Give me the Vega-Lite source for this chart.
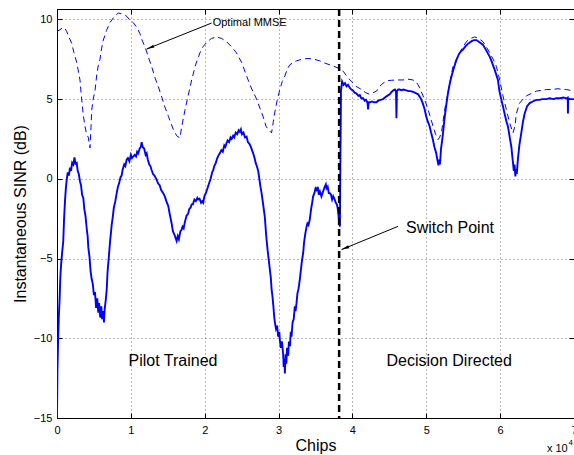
{
  "$schema": "https://vega.github.io/schema/vega-lite/v6.json",
  "width": 517,
  "height": 409,
  "autosize": {"type": "none"},
  "padding": {"left": 57, "top": 9, "right": 0, "bottom": 37},
  "background": "white",
  "config": {
    "font": "Liberation Sans",
    "view": {"stroke": "black", "strokeWidth": 1},
    "axis": {
      "labelFontSize": 11,
      "labelColor": "black",
      "titleFontSize": 16,
      "titleFontWeight": "normal",
      "titleColor": "black",
      "domainColor": "black",
      "tickColor": "black",
      "gridColor": "#000000",
      "gridOpacity": 0.55,
      "gridDash": [1, 3],
      "gridWidth": 1
    }
  },
  "datasets": {
    "mmse": [
      {"x":0,"y":9.25},{"x":400,"y":9.35},{"x":850,"y":9.5},{"x":1100,"y":9.4},{"x":1310,"y":9.25},{"x":1600,"y":8.9},{"x":1990,"y":8.5},{"x":2300,"y":7.9},{"x":2670,"y":7.3},{"x":3110,"y":6.2},{"x":3340,"y":5.0},{"x":3560,"y":4.0},{"x":3790,"y":3.3},{"x":4000,"y":2.8},{"x":4240,"y":2.6},{"x":4465,"y":1.94},{"x":4600,"y":3.2},{"x":4700,"y":4.3},{"x":4900,"y":5.0},{"x":5140,"y":5.5},{"x":5400,"y":6.6},{"x":5590,"y":7.1},{"x":5820,"y":7.5},{"x":6050,"y":8.2},{"x":6270,"y":8.7},{"x":6700,"y":9.3},{"x":7170,"y":9.8},{"x":7800,"y":10.2},{"x":8300,"y":10.4},{"x":8700,"y":10.35},{"x":9200,"y":10.3},{"x":9800,"y":10.0},{"x":10320,"y":9.8},{"x":10800,"y":9.5},{"x":11230,"y":9.1},{"x":11600,"y":8.6},{"x":11900,"y":8.3},{"x":12400,"y":7.6},{"x":12810,"y":7.05},{"x":13300,"y":6.3},{"x":13700,"y":5.8},{"x":14200,"y":5.1},{"x":14610,"y":4.5},{"x":15100,"y":3.9},{"x":15740,"y":3.1},{"x":16200,"y":2.7},{"x":16640,"y":2.56},{"x":16900,"y":3.3},{"x":17320,"y":4.3},{"x":17750,"y":5.2},{"x":18230,"y":6.2},{"x":18800,"y":7.2},{"x":19350,"y":7.9},{"x":19800,"y":8.3},{"x":20250,"y":8.55},{"x":20900,"y":8.8},{"x":21600,"y":8.9},{"x":22300,"y":8.8},{"x":22960,"y":8.6},{"x":23600,"y":8.3},{"x":24300,"y":7.9},{"x":25000,"y":7.3},{"x":25670,"y":6.45},{"x":26300,"y":5.7},{"x":27020,"y":5.0},{"x":27500,"y":4.4},{"x":27910,"y":3.9},{"x":28300,"y":3.3},{"x":28590,"y":3.1},{"x":29050,"y":2.88},{"x":29300,"y":3.6},{"x":29500,"y":4.2},{"x":29800,"y":4.9},{"x":30170,"y":5.6},{"x":30500,"y":6.1},{"x":30850,"y":6.45},{"x":31200,"y":6.9},{"x":31530,"y":7.15},{"x":32000,"y":7.3},{"x":32430,"y":7.4},{"x":33200,"y":7.5},{"x":34000,"y":7.55},{"x":34800,"y":7.5},{"x":35580,"y":7.4},{"x":36300,"y":7.25},{"x":36940,"y":7.15},{"x":37500,"y":7.05},{"x":38060,"y":6.95},{"x":38740,"y":6.75},{"x":39300,"y":6.4},{"x":39870,"y":6.1},{"x":40500,"y":5.8},{"x":41230,"y":5.6},{"x":41800,"y":5.4},{"x":42350,"y":5.3},{"x":42800,"y":5.4},{"x":43260,"y":5.5},{"x":43700,"y":5.8},{"x":44150,"y":6.0},{"x":44700,"y":6.15},{"x":45290,"y":6.18},{"x":46000,"y":6.2},{"x":46850,"y":6.2},{"x":47500,"y":6.25},{"x":48200,"y":6.2},{"x":48600,"y":6.1},{"x":48880,"y":5.9},{"x":49200,"y":5.6},{"x":49560,"y":5.2},{"x":49900,"y":4.8},{"x":50240,"y":4.35},{"x":50600,"y":3.8},{"x":50910,"y":3.3},{"x":51250,"y":2.8},{"x":51590,"y":2.46},{"x":51800,"y":2.6},{"x":52050,"y":2.9},{"x":52300,"y":3.7},{"x":52500,"y":4.35},{"x":52850,"y":5.2},{"x":53170,"y":6.0},{"x":53620,"y":7.05},{"x":54080,"y":7.5},{"x":54530,"y":7.9},{"x":55000,"y":8.3},{"x":55430,"y":8.6},{"x":56000,"y":8.8},{"x":56560,"y":8.9},{"x":57100,"y":8.8},{"x":57680,"y":8.6},{"x":58100,"y":8.3},{"x":58590,"y":7.9},{"x":59050,"y":7.5},{"x":59490,"y":7.05},{"x":59940,"y":6.2},{"x":60380,"y":5.2},{"x":60840,"y":4.35},{"x":61290,"y":3.5},{"x":61740,"y":2.88},{"x":62000,"y":3.3},{"x":62200,"y":4.1},{"x":62640,"y":4.75},{"x":63100,"y":5.0},{"x":63550,"y":5.2},{"x":64200,"y":5.35},{"x":64900,"y":5.5},{"x":65600,"y":5.55},{"x":66260,"y":5.6},{"x":67000,"y":5.6},{"x":67830,"y":5.65},{"x":68500,"y":5.6},{"x":68960,"y":5.6},{"x":69500,"y":5.55},{"x":70000,"y":5.5}
    ],
    "adaptive": [
      {"x":0,"y":-15},{"x":60,"y":-12.0},{"x":150,"y":-10.2},{"x":250,"y":-8.6},{"x":350,"y":-7.6},{"x":450,"y":-6.2},{"x":550,"y":-5.4},{"x":700,"y":-4.6},{"x":850,"y":-3.9},{"x":950,"y":-2.6},{"x":1080,"y":-1.4},{"x":1200,"y":-0.6},{"x":1310,"y":-0.1},{"x":1450,"y":0.4},{"x":1600,"y":0.2},{"x":1760,"y":0.7},{"x":1900,"y":0.5},{"x":2050,"y":1.0},{"x":2200,"y":0.9},{"x":2370,"y":1.35},{"x":2500,"y":0.95},{"x":2670,"y":1.0},{"x":2800,"y":0.5},{"x":2950,"y":0.3},{"x":3110,"y":-0.15},{"x":3250,"y":-0.4},{"x":3400,"y":-1.0},{"x":3560,"y":-1.2},{"x":3700,"y":-1.9},{"x":3850,"y":-2.3},{"x":4020,"y":-3.1},{"x":4150,"y":-3.6},{"x":4240,"y":-4.3},{"x":4400,"y":-4.9},{"x":4550,"y":-5.8},{"x":4700,"y":-6.3},{"x":4850,"y":-6.6},{"x":5000,"y":-7.3},{"x":5140,"y":-7.1},{"x":5300,"y":-8.1},{"x":5450,"y":-7.5},{"x":5590,"y":-8.4},{"x":5700,"y":-7.8},{"x":5850,"y":-8.7},{"x":6000,"y":-8.0},{"x":6100,"y":-8.8},{"x":6250,"y":-8.3},{"x":6360,"y":-9.0},{"x":6450,"y":-8.2},{"x":6600,"y":-7.6},{"x":6725,"y":-7.0},{"x":6850,"y":-5.8},{"x":7000,"y":-5.0},{"x":7170,"y":-4.0},{"x":7300,"y":-3.4},{"x":7400,"y":-2.9},{"x":7550,"y":-2.4},{"x":7700,"y":-1.8},{"x":7900,"y":-1.4},{"x":8080,"y":-0.9},{"x":8250,"y":-0.5},{"x":8400,"y":-0.3},{"x":8600,"y":0.1},{"x":8750,"y":0.2},{"x":8900,"y":0.6},{"x":9100,"y":0.9},{"x":9250,"y":0.8},{"x":9430,"y":1.2},{"x":9600,"y":1.3},{"x":9800,"y":1.1},{"x":10000,"y":1.5},{"x":10150,"y":1.3},{"x":10320,"y":1.4},{"x":10500,"y":1.5},{"x":10700,"y":1.4},{"x":10850,"y":1.7},{"x":11000,"y":1.6},{"x":11200,"y":1.9},{"x":11350,"y":2.0},{"x":11460,"y":2.3},{"x":11600,"y":2.0},{"x":11800,"y":1.9},{"x":12000,"y":1.5},{"x":12140,"y":1.6},{"x":12300,"y":1.2},{"x":12500,"y":0.9},{"x":12650,"y":0.8},{"x":12810,"y":0.55},{"x":13000,"y":0.3},{"x":13200,"y":0.2},{"x":13490,"y":-0.05},{"x":13700,"y":-0.3},{"x":13900,"y":-0.4},{"x":14100,"y":-0.7},{"x":14380,"y":-0.9},{"x":14600,"y":-1.1},{"x":14800,"y":-1.4},{"x":15060,"y":-1.7},{"x":15300,"y":-2.3},{"x":15520,"y":-2.8},{"x":15700,"y":-3.3},{"x":15900,"y":-3.5},{"x":16050,"y":-3.7},{"x":16200,"y":-3.9},{"x":16350,"y":-3.6},{"x":16500,"y":-3.8},{"x":16700,"y":-3.3},{"x":16870,"y":-3.2},{"x":17000,"y":-3.0},{"x":17150,"y":-3.1},{"x":17320,"y":-2.7},{"x":17550,"y":-2.3},{"x":17750,"y":-2.2},{"x":17900,"y":-1.9},{"x":18100,"y":-1.8},{"x":18230,"y":-1.6},{"x":18400,"y":-1.6},{"x":18600,"y":-1.3},{"x":18800,"y":-1.4},{"x":19000,"y":-1.2},{"x":19120,"y":-1.3},{"x":19300,"y":-1.25},{"x":19500,"y":-1.5},{"x":19650,"y":-1.4},{"x":19800,"y":-1.5},{"x":19950,"y":-1.1},{"x":20150,"y":-0.9},{"x":20300,"y":-0.7},{"x":20470,"y":-0.45},{"x":20650,"y":-0.2},{"x":20800,"y":0.0},{"x":21000,"y":0.4},{"x":21150,"y":0.55},{"x":21300,"y":0.8},{"x":21500,"y":1.0},{"x":21700,"y":1.3},{"x":21900,"y":1.5},{"x":22050,"y":1.6},{"x":22250,"y":1.8},{"x":22450,"y":1.7},{"x":22650,"y":2.1},{"x":22800,"y":2.0},{"x":22960,"y":2.25},{"x":23100,"y":2.4},{"x":23300,"y":2.3},{"x":23500,"y":2.6},{"x":23650,"y":2.5},{"x":23850,"y":2.7},{"x":24000,"y":2.6},{"x":24200,"y":2.9},{"x":24400,"y":2.8},{"x":24600,"y":3.05},{"x":24760,"y":2.95},{"x":24900,"y":3.1},{"x":25050,"y":2.8},{"x":25250,"y":2.9},{"x":25450,"y":2.6},{"x":25670,"y":2.65},{"x":25850,"y":2.3},{"x":26050,"y":2.2},{"x":26250,"y":2.0},{"x":26400,"y":1.8},{"x":26560,"y":1.6},{"x":26750,"y":1.3},{"x":26900,"y":1.0},{"x":27050,"y":0.8},{"x":27240,"y":0.5},{"x":27400,"y":0.0},{"x":27550,"y":-0.5},{"x":27700,"y":-0.9},{"x":27850,"y":-1.4},{"x":28000,"y":-1.9},{"x":28140,"y":-2.4},{"x":28250,"y":-3.1},{"x":28370,"y":-3.8},{"x":28500,"y":-4.4},{"x":28650,"y":-5.0},{"x":28820,"y":-5.7},{"x":28950,"y":-6.2},{"x":29050,"y":-6.9},{"x":29180,"y":-7.4},{"x":29300,"y":-8.0},{"x":29400,"y":-8.6},{"x":29500,"y":-9.0},{"x":29650,"y":-9.4},{"x":29800,"y":-9.2},{"x":29950,"y":-9.9},{"x":30100,"y":-9.6},{"x":30170,"y":-10.1},{"x":30300,"y":-10.6},{"x":30450,"y":-10.2},{"x":30620,"y":-11.0},{"x":30700,"y":-11.8},{"x":30800,"y":-11.3},{"x":30850,"y":-12.2},{"x":30950,"y":-11.0},{"x":31050,"y":-11.6},{"x":31150,"y":-10.6},{"x":31300,"y":-11.1},{"x":31400,"y":-10.2},{"x":31550,"y":-10.5},{"x":31650,"y":-9.6},{"x":31750,"y":-9.9},{"x":31900,"y":-9.0},{"x":32050,"y":-8.8},{"x":32200,"y":-8.0},{"x":32300,"y":-8.3},{"x":32430,"y":-7.8},{"x":32550,"y":-7.2},{"x":32700,"y":-6.9},{"x":32880,"y":-6.3},{"x":33000,"y":-5.8},{"x":33150,"y":-5.2},{"x":33330,"y":-4.65},{"x":33450,"y":-4.0},{"x":33600,"y":-3.5},{"x":33790,"y":-3.0},{"x":33900,"y":-2.8},{"x":34050,"y":-2.9},{"x":34230,"y":-2.55},{"x":34400,"y":-1.9},{"x":34550,"y":-1.5},{"x":34680,"y":-1.1},{"x":34850,"y":-0.9},{"x":35000,"y":-0.6},{"x":35140,"y":-0.7},{"x":35300,"y":-0.5},{"x":35450,"y":-1.0},{"x":35600,"y":-0.8},{"x":35800,"y":-1.1},{"x":35950,"y":-0.9},{"x":36100,"y":-0.7},{"x":36250,"y":-0.5},{"x":36400,"y":-0.35},{"x":36500,"y":-0.6},{"x":36650,"y":-0.5},{"x":36800,"y":-0.9},{"x":36940,"y":-0.9},{"x":37100,"y":-1.0},{"x":37250,"y":-1.3},{"x":37400,"y":-1.1},{"x":37600,"y":-1.3},{"x":37750,"y":-1.5},{"x":37900,"y":-1.6},{"x":38050,"y":-2.0},{"x":38150,"y":-2.5},{"x":38300,"y":-3.0},{"x":38450,"y":5.5},{"x":38600,"y":6.1},{"x":38800,"y":5.9},{"x":39000,"y":6.0},{"x":39200,"y":5.8},{"x":39400,"y":5.9},{"x":39650,"y":5.7},{"x":39850,"y":5.6},{"x":40050,"y":5.55},{"x":40300,"y":5.4},{"x":40550,"y":5.35},{"x":40800,"y":5.2},{"x":41000,"y":5.25},{"x":41200,"y":5.05},{"x":41450,"y":5.05},{"x":41650,"y":4.9},{"x":41850,"y":4.95},{"x":42050,"y":4.75},{"x":42120,"y":4.35},{"x":42200,"y":4.8},{"x":42400,"y":4.8},{"x":42650,"y":4.85},{"x":42900,"y":4.8},{"x":43250,"y":4.8},{"x":43500,"y":4.9},{"x":43800,"y":4.95},{"x":44150,"y":5.0},{"x":44400,"y":5.1},{"x":44700,"y":5.2},{"x":45050,"y":5.3},{"x":45300,"y":5.45},{"x":45550,"y":5.55},{"x":45750,"y":5.6},{"x":45900,"y":5.5},{"x":45960,"y":3.8},{"x":46020,"y":5.5},{"x":46200,"y":5.6},{"x":46400,"y":5.6},{"x":46650,"y":5.55},{"x":46900,"y":5.6},{"x":47300,"y":5.55},{"x":47600,"y":5.5},{"x":47900,"y":5.5},{"x":48200,"y":5.45},{"x":48450,"y":5.4},{"x":48700,"y":5.35},{"x":48900,"y":5.3},{"x":49100,"y":5.15},{"x":49300,"y":5.0},{"x":49550,"y":4.7},{"x":49750,"y":4.4},{"x":50000,"y":3.9},{"x":50200,"y":3.6},{"x":50450,"y":3.3},{"x":50650,"y":2.9},{"x":50900,"y":2.45},{"x":51100,"y":2.0},{"x":51350,"y":1.6},{"x":51500,"y":1.2},{"x":51650,"y":0.85},{"x":51750,"y":1.2},{"x":51850,"y":0.9},{"x":52000,"y":1.9},{"x":52200,"y":2.6},{"x":52500,"y":3.9},{"x":52700,"y":4.6},{"x":52950,"y":5.4},{"x":53150,"y":5.9},{"x":53400,"y":6.4},{"x":53700,"y":6.9},{"x":54080,"y":7.45},{"x":54400,"y":7.8},{"x":54700,"y":8.0},{"x":54970,"y":8.1},{"x":55300,"y":8.3},{"x":55600,"y":8.45},{"x":55880,"y":8.55},{"x":56200,"y":8.65},{"x":56500,"y":8.7},{"x":56800,"y":8.7},{"x":57100,"y":8.6},{"x":57400,"y":8.5},{"x":57680,"y":8.4},{"x":58000,"y":8.15},{"x":58300,"y":7.9},{"x":58600,"y":7.65},{"x":58900,"y":7.3},{"x":59250,"y":6.85},{"x":59500,"y":6.5},{"x":59700,"y":6.2},{"x":59900,"y":5.5},{"x":60170,"y":4.95},{"x":60400,"y":4.5},{"x":60600,"y":4.1},{"x":60850,"y":3.6},{"x":61050,"y":3.3},{"x":61300,"y":2.6},{"x":61520,"y":2.0},{"x":61650,"y":1.4},{"x":61740,"y":1.0},{"x":61850,"y":0.5},{"x":61950,"y":0.9},{"x":62060,"y":0.15},{"x":62150,"y":0.6},{"x":62250,"y":0.3},{"x":62400,"y":1.2},{"x":62600,"y":2.1},{"x":62870,"y":2.9},{"x":63100,"y":3.6},{"x":63320,"y":4.1},{"x":63650,"y":4.55},{"x":64000,"y":4.75},{"x":64400,"y":4.85},{"x":64900,"y":4.95},{"x":65300,"y":4.95},{"x":65700,"y":5.0},{"x":66250,"y":5.0},{"x":66700,"y":5.05},{"x":67200,"y":5.0},{"x":67600,"y":5.05},{"x":68100,"y":5.05},{"x":68600,"y":5.1},{"x":68950,"y":5.05},{"x":69150,"y":5.1},{"x":69180,"y":4.1},{"x":69220,"y":5.05},{"x":69500,"y":5.0},{"x":69850,"y":5.0},{"x":70000,"y":5.0}
    ]
  },
  "resolve": {"axis": {"x": "independent", "y": "independent"}},
  "layer": [
    {
      "data": {"name": "mmse"},
      "mark": {"type": "line", "color": "#0000ff", "strokeWidth": 1, "strokeDash": [6, 4], "clip": true},
      "encoding": {
        "x": {"field": "x", "type": "quantitative", "scale": {"domain": [0, 70000], "nice": false, "zero": false},
          "axis": {"orient": "bottom", "values": [0,10000,20000,30000,40000,50000,60000,70000], "labelExpr": "format(datum.value/10000, 'd')", "title": "Chips", "grid": true, "tickSize": -5, "labelPadding": 11, "titlePadding": 2, "labelFlush": false, "labelOverlap": false}},
        "y": {"field": "y", "type": "quantitative", "scale": {"domain": [-15, 10.65], "nice": false, "zero": false},
          "axis": {"orient": "left", "values": [-15,-10,-5,0,5,10], "title": "Instantaneous SINR (dB)", "grid": true, "tickSize": -5, "labelPadding": 10, "titlePadding": 5, "labelFlush": false, "labelOverlap": false}}
      }
    },
    {
      "data": {"name": "adaptive"},
      "mark": {"type": "line", "color": "#0000ff", "strokeWidth": 1.9, "clip": true},
      "encoding": {
        "x": {"field": "x", "type": "quantitative", "axis": {"orient": "top", "values": [0,10000,20000,30000,40000,50000,60000,70000], "labels": false, "title": null, "grid": false, "tickSize": -5}},
        "y": {"field": "y", "type": "quantitative", "axis": {"orient": "right", "values": [-15,-10,-5,0,5,10], "labels": false, "title": null, "grid": false, "tickSize": -5}}
      }
    },
    {
      "data": {"values": [{"x": 38200}]},
      "mark": {"type": "rule", "color": "black", "strokeWidth": 2.5, "strokeDash": [7, 4]},
      "encoding": {"x": {"field": "x", "type": "quantitative", "axis": null}}
    },
    {
      "data": {"values": [
        {"x": 20930, "y": 9.77, "x2": 12137, "y2": 8.14},
        {"x": 46178, "y": -2.98, "x2": 38520, "y2": -4.44}
      ]},
      "mark": {"type": "rule", "color": "black", "strokeWidth": 1},
      "encoding": {
        "x": {"field": "x", "type": "quantitative", "axis": null},
        "y": {"field": "y", "type": "quantitative", "axis": null},
        "x2": {"field": "x2"},
        "y2": {"field": "y2"}
      }
    },
    {
      "data": {"values": [
        {"x": 12137, "y": 8.14},
        {"x": 38520, "y": -4.44}
      ]},
      "mark": {"type": "point", "shape": "M0,0L0.4,2L-0.4,2Z", "filled": true, "color": "black", "opacity": 1, "size": 60, "angle": 248},
      "encoding": {
        "x": {"field": "x", "type": "quantitative", "axis": null},
        "y": {"field": "y", "type": "quantitative", "axis": null}
      }
    },
    {
      "data": {"values": [
        {"x": 15705, "y": -11.4, "t": "Pilot Trained"},
        {"x": 53100, "y": -11.4, "t": "Decision Directed"}
      ]},
      "mark": {"type": "text", "fontSize": 16, "color": "black", "align": "center", "baseline": "middle"},
      "encoding": {
        "x": {"field": "x", "type": "quantitative", "axis": null},
        "y": {"field": "y", "type": "quantitative", "axis": null},
        "text": {"field": "t"}
      }
    },
    {
      "data": {"values": [{"x": 47250, "y": -3.06, "t": "Switch Point"}]},
      "mark": {"type": "text", "fontSize": 16, "color": "black", "align": "left", "baseline": "middle"},
      "encoding": {
        "x": {"field": "x", "type": "quantitative", "axis": null},
        "y": {"field": "y", "type": "quantitative", "axis": null},
        "text": {"field": "t"}
      }
    },
    {
      "data": {"values": [{"x": 21080, "y": 9.77, "t": "Optimal MMSE"}]},
      "mark": {"type": "text", "fontSize": 11, "color": "black", "align": "left", "baseline": "middle"},
      "encoding": {
        "x": {"field": "x", "type": "quantitative", "axis": null},
        "y": {"field": "y", "type": "quantitative", "axis": null},
        "text": {"field": "t"}
      }
    },
    {
      "data": {"values": [{"x": 69150, "y": -16.94, "t": "x 10"}]},
      "mark": {"type": "text", "fontSize": 11, "color": "black", "align": "right", "baseline": "middle"},
      "encoding": {
        "x": {"field": "x", "type": "quantitative", "axis": null},
        "y": {"field": "y", "type": "quantitative", "axis": null},
        "text": {"field": "t"}
      }
    },
    {
      "data": {"values": [{"x": 69250, "y": -16.57, "t": "4"}]},
      "mark": {"type": "text", "fontSize": 8, "color": "black", "align": "left", "baseline": "middle"},
      "encoding": {
        "x": {"field": "x", "type": "quantitative", "axis": null},
        "y": {"field": "y", "type": "quantitative", "axis": null},
        "text": {"field": "t"}
      }
    }
  ]
}
